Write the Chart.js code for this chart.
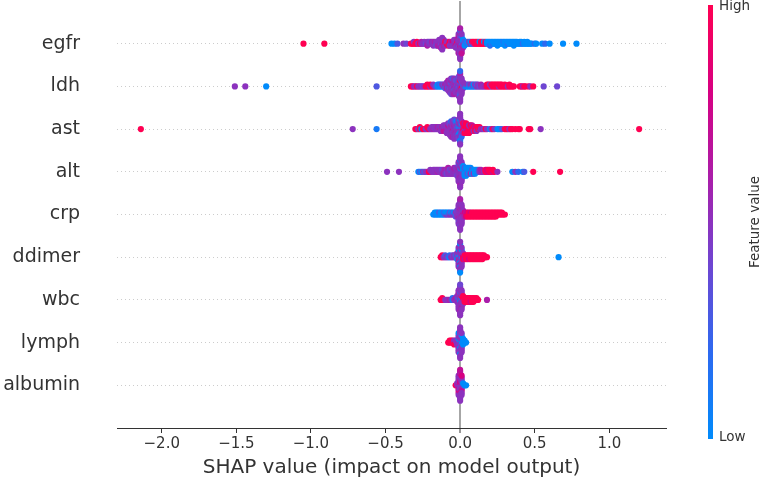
<!DOCTYPE html>
<html>
<head>
<meta charset="UTF-8">
<title>shap summary</title>
<style>
	body {margin: 0; background: #fff}
</style>
</head>
<body>
	<canvas id="shapChart" width="761" height="480"></canvas>
<script src="https://cdn.jsdelivr.net/npm/chart.js@4.4.0/dist/chart.umd.min.js"></script>
<script>
	// features, top row first
	const features = ['egfr', 'ldh', 'ast', 'alt', 'crp', 'ddimer', 'wbc', 'lymph', 'albumin'];
	const xTicks = [-2.0, -1.5, -1.0, -0.5, 0.0, 0.5, 1.0];

	// [shap value, feature value 0(low)..1(high)]
	const egfr = [
		[-1.05,1],[-0.91,1],[-0.46,0],[-0.44,0],[-0.42,0.3],[-0.38,0.5],[-0.36,0.4],
		[-0.33,1],[-0.32,1],[-0.31,1],[-0.31,0.5],[-0.30,1],[-0.29,1],[-0.29,1],[-0.28,0.5],[-0.27,1],[-0.26,0.5],[-0.26,0.6],[-0.25,0.5],
		[-0.24,0.5],[-0.24,0.5],[-0.23,0.4],[-0.22,0.5],[-0.22,0.5],[-0.22,0.6],[-0.21,0.5],[-0.21,0.5],[-0.20,0.5],[-0.20,0.4],[-0.19,0.5],[-0.19,0.6],
		[-0.18,0.5],[-0.18,0.5],[-0.18,0.5],[-0.17,0.5],[-0.17,0.6],[-0.16,0.5],[-0.16,0.5],[-0.16,0.4],[-0.15,0.5],[-0.15,0.5],[-0.15,0.6],
		[-0.14,0.5],[-0.14,0.5],[-0.14,0.6],[-0.14,0.5],[-0.13,0.5],[-0.13,0.5],[-0.13,0.4],[-0.13,0.5],[-0.13,0.6],
		[-0.12,0.5],[-0.12,0.5],[-0.12,0.6],[-0.12,0.5],[-0.12,0.4],[-0.12,0.5],[-0.12,0.5],
		[-0.11,0.5],[-0.11,0.5],[-0.11,0.6],[-0.11,0.5],[-0.10,1],[-0.10,1],[-0.10,0.5],[-0.09,1],[-0.09,0.5],[-0.08,0.5],[-0.08,0.5],[-0.08,1],
		[-0.07,1],[-0.07,1],[-0.07,0.5],[-0.06,0.5],[-0.06,0.6],[-0.06,0.5],[-0.05,0.5],[-0.05,0.8],[-0.05,0.5],
		[-0.04,0.5],[-0.04,0.6],[-0.04,0.5],[-0.04,0.5],[-0.03,0.5],[-0.03,0.5],[-0.03,0.7],[-0.03,0.5],[-0.03,0.5],
		[-0.02,0.5],[-0.02,1],[-0.02,0.5],[-0.02,0.6],[-0.02,0.5],
		[-0.01,0.5],[-0.01,0.5],[-0.01,0.6],[-0.01,0.5],[-0.01,0.4],[-0.01,0.5],[-0.01,0.5],[-0.01,0.7],[-0.01,0.5],[-0.01,0.5],[-0.01,0.6],
		[0,0.5],[0,0.5],[0,0.6],[0,0.5],[0,0.7],[0,0.5],[0,0.5],[0,0.4],[0,0.5],[0,0.6],[0,0.5],[0,0.5],[0,0.5],[0,0.3],[0,0.5],[0,0.6],[0,0.5],
		[0.01,0.5],[0.01,0.5],[0.01,0.3],[0.01,0.5],[0.01,0.6],[0.01,0.5],[0.01,0.5],[0.01,0.2],[0.01,0.5],[0.01,0.5],[0.01,0.7],
		[0.02,0.5],[0.02,0.2],[0.02,0.5],[0.02,0],[0.02,0.6],[0.03,0.5],[0.03,0.3],[0.03,0],
		[0.04,0],[0.04,0.2],[0.05,0.2],[0.05,0],[0.06,0],[0.06,0.5],[0.07,0.5],[0.07,0],[0.08,0],[0.08,1],[0.09,0.5],[0.09,1],
		[0.10,1],[0.10,1],[0.11,1],[0.11,1],[0.12,1],[0.12,1],[0.13,1],[0.13,0],[0.14,1],[0.14,1],[0.15,1],[0.15,1],[0.16,1],[0.16,0],[0.17,1],[0.17,1],
		[0.18,0],[0.18,0],[0.19,0],[0.19,0],[0.20,0],[0.20,0],[0.20,0.2],[0.21,0],[0.21,0],[0.22,0.2],[0.22,0],[0.23,0],[0.23,0],[0.24,0],[0.24,0],[0.25,0],[0.25,0],[0.25,0],
		[0.26,0],[0.26,0],[0.27,0],[0.27,0],[0.28,0],[0.28,0],[0.29,0],[0.29,0.1],[0.30,0],[0.30,0],[0.30,0],[0.31,0],[0.31,0],[0.32,0.2],[0.32,0],[0.33,0],[0.33,0],
		[0.34,0],[0.34,0],[0.35,0],[0.35,0],[0.36,0],[0.36,0],[0.36,0],[0.37,0],[0.37,0],[0.38,0],[0.38,0],[0.39,0],[0.40,0],[0.40,0],[0.41,0],[0.41,0],[0.42,0.2],
		[0.43,0],[0.43,0],[0.44,0],[0.45,0],[0.45,0],[0.46,0],[0.47,0],[0.48,0],[0.50,0.2],[0.51,0],[0.55,0],[0.57,0.2],[0.60,0],[0.69,0],[0.78,0]
	];
	const ldh = [
		[-1.51,0.5],[-1.44,0.5],[-1.30,0],[-0.56,0.3],
		[-0.33,1],[-0.32,1],[-0.31,0.6],[-0.30,0.5],[-0.29,1],[-0.28,0.5],[-0.27,0.5],[-0.26,0.5],[-0.25,0.4],[-0.24,0.5],
		[-0.23,1],[-0.22,1],[-0.22,1],[-0.21,1],[-0.20,0.5],[-0.20,1],[-0.19,1],[-0.18,1],[-0.18,0.5],[-0.17,0.5],
		[-0.16,0.3],[-0.15,0],[-0.15,0],[-0.14,0],[-0.14,0.2],[-0.13,0],[-0.13,0.1],[-0.12,0],[-0.12,0.5],[-0.11,0.5],[-0.11,0.4],
		[-0.10,0.5],[-0.10,0.6],[-0.10,0.3],[-0.09,0.5],[-0.09,0.5],[-0.09,0.6],[-0.09,0.5],
		[-0.08,0.5],[-0.08,0.5],[-0.08,0.3],[-0.08,0.5],[-0.08,0.5],[-0.08,0.6],
		[-0.07,0.5],[-0.07,0.6],[-0.07,0.5],[-0.07,0.5],[-0.07,0.4],[-0.07,0.5],[-0.07,0.5],
		[-0.06,0.5],[-0.06,0.5],[-0.06,0.5],[-0.06,0.3],[-0.06,0.5],[-0.06,0.6],[-0.06,0.5],[-0.06,0.5],[-0.06,0.4],
		[-0.05,0.5],[-0.05,0.5],[-0.05,0.4],[-0.05,0.5],[-0.05,0.5],[-0.05,0.6],[-0.05,0.5],[-0.05,0.3],[-0.05,0.5],
		[-0.04,0.5],[-0.04,0.5],[-0.04,0.6],[-0.04,0.5],[-0.04,0.3],[-0.04,0.5],[-0.04,0.5],[-0.04,0.5],[-0.04,0.6],
		[-0.03,0.5],[-0.03,0.5],[-0.03,0.5],[-0.03,0.6],[-0.03,0.5],[-0.03,0.4],[-0.03,0.5],
		[-0.02,0.5],[-0.02,0.4],[-0.02,0.5],[-0.02,0.5],[-0.02,0.5],[-0.02,0.3],
		[-0.01,0.5],[-0.01,0.5],[-0.01,0.3],[-0.01,0.5],[-0.01,0.5],[-0.01,0.5],[-0.01,0.6],[-0.01,0.5],[-0.01,0.5],[-0.01,0.4],[-0.01,0.5],
		[0,0.5],[0,0.5],[0,0.5],[0,0.3],[0,0.5],[0,1],[0,0.5],[0,0.5],[0,0.4],[0,0.5],[0,0.2],[0,0.5],[0,0.5],[0,0.6],[0,0.5],[0,0.2],[0,0.5],
		[0.01,0.5],[0.01,0.5],[0.01,1],[0.01,0.5],[0.01,0.5],[0.01,0.3],[0.01,0.5],[0.01,0.5],[0.01,0.5],
		[0.02,0.5],[0.02,0.3],[0.02,0.5],[0.02,0.5],
		[0.03,0.3],[0.03,0.5],[0.04,0],[0.04,0.5],[0.05,0],[0.05,0.5],[0.06,0],[0.06,0.3],[0.07,0.1],[0.07,0.5],[0.08,0],[0.08,0.5],[0.09,0.3],[0.09,0],
		[0.10,0],[0.10,0.5],[0.11,0.5],[0.11,0.3],[0.12,0.5],[0.12,0.5],[0.13,0.4],[0.14,0.5],[0.14,0.6],[0.15,0.5],[0.16,0.5],[0.17,0.6],
		[0.18,1],[0.18,1],[0.19,1],[0.19,1],[0.20,1],[0.20,0.5],[0.21,0.5],[0.21,1],[0.22,1],[0.22,1],[0.23,1],[0.23,1],[0.24,1],[0.24,1],[0.25,1],[0.25,1],
		[0.26,0.5],[0.26,1],[0.27,1],[0.27,1],[0.28,1],[0.28,1],[0.29,1],[0.30,1],[0.30,1],[0.31,1],[0.32,0.5],[0.33,1],[0.33,1],[0.34,1],[0.35,1],[0.36,1],
		[0.40,1],[0.41,1],[0.42,0.6],[0.43,1],[0.44,1],[0.46,1],[0.47,0.5],[0.49,1],[0.56,0.4],[0.65,0.4]
	];
	const ast = [
		[-2.14,1],[-0.72,0.5],[-0.56,0.1],
		[-0.30,1],[-0.29,1],[-0.28,0.4],[-0.27,1],[-0.27,1],[-0.26,0],[-0.25,1],[-0.24,1],[-0.23,0.5],[-0.22,0.5],[-0.22,1],[-0.21,1],[-0.20,0.5],
		[-0.19,0.5],[-0.19,0.5],[-0.18,0.6],[-0.18,0.5],[-0.17,0.5],[-0.17,0.5],[-0.16,0.5],[-0.16,0.5],[-0.15,0.5],[-0.15,0.6],[-0.14,0.5],[-0.14,0.5],
		[-0.13,1],[-0.13,0.5],[-0.13,0.5],[-0.12,0.5],[-0.12,0.6],[-0.12,0.5],[-0.11,0.5],[-0.11,0.5],[-0.11,0.7],[-0.11,0.5],
		[-0.10,0.5],[-0.10,0.5],[-0.10,0.7],[-0.10,0.5],[-0.09,0.5],[-0.09,0.5],[-0.09,0.6],[-0.09,0.5],[-0.09,0.5],
		[-0.08,0.5],[-0.08,0.5],[-0.08,0.5],[-0.08,0.7],[-0.08,0.5],[-0.08,0.5],
		[-0.07,0.5],[-0.07,0.6],[-0.07,0.5],[-0.07,0.5],[-0.07,0.5],[-0.07,0.4],[-0.07,0.5],
		[-0.06,0.5],[-0.06,0.5],[-0.06,0.5],[-0.06,0.6],[-0.06,0.5],[-0.06,0.5],[-0.06,0.5],[-0.06,0.2],[-0.06,0.5],
		[-0.05,0.5],[-0.05,0.5],[-0.05,0.7],[-0.05,0.5],[-0.05,0.5],[-0.05,0.5],[-0.05,0.5],[-0.05,0.5],[-0.05,0.6],
		[-0.04,0.5],[-0.04,0.5],[-0.04,0.5],[-0.04,0.6],[-0.04,0.5],[-0.04,0.5],[-0.04,0.5],[-0.04,0.5],[-0.04,0.5],[-0.04,0.4],[-0.04,0.5],
		[-0.03,0.5],[-0.03,0.5],[-0.03,0.5],[-0.03,0.5],[-0.03,0.6],[-0.03,0.5],[-0.03,0.5],[-0.03,0.2],[-0.03,0.5],
		[-0.02,0.5],[-0.02,0.3],[-0.02,0.5],[-0.02,0.5],[-0.02,0.5],[-0.02,0.5],[-0.02,0.5],[-0.02,0],[-0.02,0.5],
		[-0.01,0.5],[-0.01,0],[-0.01,0.5],[-0.01,0.2],[-0.01,0.5],[-0.01,0.5],[-0.01,0],[-0.01,0.5],[-0.01,0.5],[-0.01,0.5],[-0.01,0.4],
		[0,0.5],[0,0],[0,0.5],[0,0.5],[0,0],[0,0.5],[0,0.2],[0,0.5],[0,0.5],[0,0],[0,0.5],[0,0.5],[0,0],[0,0.5],[0,0.3],[0,0.5],[0,0.5],
		[0.01,0.5],[0.01,0],[0.01,0.5],[0.01,0.5],[0.01,0.5],[0.01,0],[0.01,0.5],[0.01,0.5],[0.01,0.2],
		[0.02,1],[0.02,0.5],[0.02,1],[0.02,0.5],[0.02,0.5],[0.02,1],
		[0.03,1],[0.03,1],[0.03,0.5],[0.03,1],[0.03,1],[0.03,0.7],
		[0.04,1],[0.04,1],[0.04,0.5],[0.04,1],[0.04,1],[0.04,1],
		[0.05,1],[0.05,1],[0.05,0.7],[0.05,1],[0.05,1],[0.06,1],[0.06,1],[0.06,1],[0.06,0.5],[0.06,1],
		[0.07,1],[0.07,0.5],[0.07,1],[0.07,1],[0.08,1],[0.08,1],[0.08,1],[0.08,0.7],[0.09,1],[0.09,1],[0.09,0.5],
		[0.10,1],[0.10,0.7],[0.10,1],[0.11,1],[0.11,1],[0.11,0.5],[0.12,1],[0.12,1],[0.13,0.5],[0.13,1],
		[0.14,0.5],[0.15,0.6],[0.16,0.4],[0.17,1],[0.18,0.5],
		[0.20,0],[0.21,0.5],[0.22,1],[0.23,0.5],[0.25,0],[0.26,0],[0.27,0],[0.28,0.3],[0.30,1],[0.31,1],[0.32,1],[0.33,0.5],[0.34,1],[0.35,1],
		[0.37,1],[0.39,1],[0.40,1],[0.46,1],[0.47,1],[0.54,0.5],[1.20,1]
	];
	const alt = [
		[-0.49,0.5],[-0.41,0.5],
		[-0.28,0],[-0.27,0.3],[-0.26,0],[-0.25,0.5],[-0.24,0.3],[-0.23,0.5],[-0.22,0.5],[-0.21,1],[-0.20,1],[-0.20,0.5],[-0.19,0.5],[-0.18,0.5],[-0.18,0.5],
		[-0.17,0.5],[-0.17,0.5],[-0.16,0.5],[-0.16,0.5],[-0.15,0.6],[-0.15,0.5],[-0.14,0.5],[-0.14,0.5],[-0.13,0.5],[-0.13,0.5],
		[-0.12,0.5],[-0.12,0.4],[-0.12,0.5],[-0.11,0.5],[-0.11,0.5],[-0.11,0.6],
		[-0.10,0.5],[-0.10,0.6],[-0.10,0.5],[-0.09,0.5],[-0.09,0.5],[-0.09,0.4],[-0.08,0.5],[-0.08,0.5],[-0.08,0.5],[-0.08,0.6],
		[-0.07,0.5],[-0.07,0.4],[-0.07,0.5],[-0.06,0],[-0.06,0.5],[-0.06,0.5],[-0.05,0],[-0.05,0.5],[-0.05,0.5],
		[-0.04,0.5],[-0.04,0.5],[-0.04,0.5],[-0.04,0.6],[-0.03,0.5],[-0.03,0.6],[-0.03,0.5],[-0.03,0.5],
		[-0.02,0.5],[-0.02,0.5],[-0.02,0.5],[-0.02,0.5],[-0.02,0.4],
		[-0.01,0.5],[-0.01,0.5],[-0.01,0.5],[-0.01,0.6],[-0.01,0.5],[-0.01,0.5],[-0.01,0.5],[-0.01,0.3],[-0.01,0.5],[-0.01,0.5],[-0.01,0.5],
		[0,0.5],[0,0.5],[0,0.5],[0,0.3],[0,0.5],[0,0.5],[0,0.6],[0,0.5],[0,0.5],[0,0.5],[0,0.5],[0,0.2],[0,0.5],[0,0.5],[0,0.6],[0,0.5],[0,0.5],
		[0.01,0.5],[0.01,0],[0.01,0.5],[0.01,0.5],[0.01,0.5],[0.01,0.5],[0.01,0.5],[0.01,0.3],[0.01,0.5],[0.01,0.5],[0.01,0.5],
		[0.02,0],[0.02,0],[0.02,0.5],[0.02,0],[0.02,0.5],[0.02,0],
		[0.03,0],[0.03,0],[0.03,0],[0.03,0.3],[0.03,0],
		[0.04,0],[0.04,0.2],[0.04,0],[0.04,0],[0.04,0],[0.05,0],[0.05,0],[0.05,0.3],[0.05,0],
		[0.06,0],[0.06,0.1],[0.06,0],[0.06,0],[0.07,0],[0.07,0],[0.07,0.5],[0.07,0],[0.08,0],[0.08,0.3],[0.08,0],
		[0.09,0],[0.09,0],[0.09,0.5],[0.10,0],[0.10,0],[0.10,0],[0.11,0],[0.11,0],[0.12,0.1],[0.12,0],
		[0.13,0.5],[0.13,0.5],[0.14,0.5],[0.14,0.6],[0.15,0.6],[0.16,0.5],
		[0.17,1],[0.17,1],[0.18,1],[0.18,0.8],[0.19,0.8],[0.19,1],[0.20,1],[0.20,1],[0.21,1],[0.22,0.7],[0.22,1],[0.23,1],[0.25,0.5],
		[0.35,0],[0.37,0.5],[0.39,0.2],[0.42,0],[0.43,0.3],[0.49,1],[0.67,1]
	];
	const crp = [
		[-0.18,0],[-0.17,0],[-0.17,0],[-0.16,0.1],[-0.16,0],[-0.15,0],[-0.15,0],[-0.14,0],[-0.14,0.3],[-0.13,0],[-0.13,0],
		[-0.12,0],[-0.12,0],[-0.11,0],[-0.11,0.2],[-0.10,0.3],[-0.10,0],
		[-0.09,0.5],[-0.09,0],[-0.08,0.4],[-0.08,0],[-0.07,0.5],[-0.07,0.3],[-0.06,0.5],[-0.06,0],[-0.05,0.5],[-0.05,0.3],
		[-0.04,0.5],[-0.04,0],[-0.03,0.5],[-0.03,0.5],[-0.03,0.3],
		[-0.02,0.5],[-0.02,0.5],[-0.02,0.5],[-0.02,0.4],
		[-0.01,0.5],[-0.01,0.5],[-0.01,0.5],[-0.01,0.5],[-0.01,0.6],[-0.01,0.5],[-0.01,0.5],[-0.01,0.5],[-0.01,0.4],[-0.01,0.5],[-0.01,0.5],
		[0,0.5],[0,0.5],[0,0.5],[0,0.5],[0,0.5],[0,0.6],[0,0.5],[0,0.5],[0,0.5],[0,0.5],[0,0.5],[0,0.5],[0,0.4],[0,0.5],[0,0.5],[0,0.6],[0,0.5],
		[0.01,0.5],[0.01,0.5],[0.01,0.6],[0.01,0.5],[0.01,0.5],[0.01,0.5],[0.01,0.5],[0.01,0.6],[0.01,0.5],[0.01,0.5],[0.01,0.5],
		[0.02,0.6],[0.02,0.7],[0.02,0.5],[0.02,0.5],
		[0.03,0.7],[0.03,0.8],[0.03,0.6],[0.04,1],[0.04,0.7],[0.04,0.8],
		[0.05,1],[0.05,0.8],[0.05,1],[0.06,1],[0.06,1],[0.06,1],[0.07,1],[0.07,0.8],[0.07,1],[0.08,1],[0.08,1],[0.08,1],[0.09,1],[0.09,1],[0.09,1],
		[0.10,1],[0.10,1],[0.10,1],[0.11,1],[0.11,1],[0.11,1],[0.12,1],[0.12,1],[0.12,1],[0.13,1],[0.13,1],[0.13,1],[0.14,1],[0.14,1],[0.14,1],
		[0.15,1],[0.15,1],[0.15,1],[0.16,1],[0.16,1],[0.16,1],[0.17,1],[0.17,1],[0.17,1],[0.18,1],[0.18,1],[0.18,1],[0.19,1],[0.19,1],[0.19,1],
		[0.20,1],[0.20,1],[0.20,1],[0.21,1],[0.21,1],[0.21,1],[0.22,1],[0.22,1],[0.22,1],[0.23,1],[0.23,1],[0.23,1],[0.24,1],[0.24,1],[0.24,1],
		[0.25,1],[0.25,1],[0.26,1],[0.26,1],[0.27,1],[0.27,1],[0.28,1],[0.28,1],[0.29,1],[0.30,1]
	];
	const ddimer = [
		[-0.13,1],[-0.12,1],[-0.12,1],[-0.11,0.5],[-0.10,0.5],[-0.10,0.3],[-0.09,0.5],[-0.08,0.3],[-0.07,0],[-0.07,0.2],
		[-0.06,0.5],[-0.05,0.5],[-0.05,0.4],[-0.04,0.5],[-0.04,0.5],[-0.03,0.5],[-0.03,0.3],
		[-0.02,0.5],[-0.02,0.5],[-0.02,0],[-0.02,0.5],
		[-0.01,0.5],[-0.01,0],[-0.01,0.5],[-0.01,0.5],[-0.01,0.6],[-0.01,0.5],[-0.01,0.5],[-0.01,0],[-0.01,0.5],[-0.01,0.5],[-0.01,0.5],
		[0,0.5],[0,0],[0,0.5],[0,0.5],[0,0.6],[0,0.5],[0,0],[0,0.5],[0,0.7],[0,0.5],[0,0],[0,0.5],[0,0.5],[0,0],[0,0.5],[0,0.5],[0,0],
		[0.01,0.5],[0.01,0.5],[0.01,0.1],[0.01,0.5],[0.01,0.5],[0.01,0.5],[0.01,0.5],[0.01,0],[0.01,0.5],[0.01,0.5],[0.01,0.5],
		[0.02,1],[0.02,0.8],[0.02,1],[0.02,0.5],
		[0.03,1],[0.03,1],[0.03,0.7],[0.04,1],[0.04,1],[0.04,1],[0.05,1],[0.05,1],[0.05,1],[0.06,1],[0.06,1],[0.06,0.8],
		[0.07,1],[0.07,1],[0.07,1],[0.08,1],[0.08,1],[0.08,1],[0.09,1],[0.09,1],[0.09,1],[0.10,1],[0.10,1],[0.10,1],[0.11,1],[0.11,1],[0.11,1],
		[0.12,1],[0.12,1],[0.12,1],[0.13,1],[0.13,1],[0.13,1],[0.14,1],[0.14,1],[0.14,1],[0.15,1],[0.15,1],[0.15,1],[0.16,1],[0.16,1],[0.17,1],[0.18,1],
		[0.66,0]
	];
	const wbc = [
		[-0.13,1],[-0.12,1],[-0.12,1],[-0.11,1],[-0.10,0.5],[-0.09,0.5],[-0.08,0.5],[-0.07,0.6],[-0.06,0.5],[-0.05,0],[-0.05,0.2],
		[-0.04,0.5],[-0.03,0.5],[-0.03,0.6],
		[-0.02,0.5],[-0.02,0.5],[-0.02,0.5],[-0.02,0.5],
		[-0.01,0.5],[-0.01,0],[-0.01,0.5],[-0.01,0.5],[-0.01,0.5],[-0.01,0.5],[-0.01,0.5],[-0.01,0.6],[-0.01,0.5],[-0.01,0.5],[-0.01,0.5],
		[0,0.5],[0,0.5],[0,0],[0,0.5],[0,0.5],[0,0.5],[0,0.5],[0,0.3],[0,0.5],[0,0.5],[0,0.5],[0,0.5],[0,0.6],[0,0.5],[0,0.5],[0,0.4],[0,0.5],
		[0.01,0.5],[0.01,0],[0.01,0.5],[0.01,1],[0.01,0.5],[0.01,0.5],[0.01,0.5],[0.01,0.5],[0.01,0.6],[0.01,0.5],[0.01,0.5],
		[0.02,1],[0.02,1],[0.02,0.5],[0.02,1],[0.02,0.5],
		[0.03,1],[0.03,1],[0.03,1],[0.04,1],[0.04,1],[0.04,1],[0.05,1],[0.05,1],[0.05,1],[0.06,1],[0.06,1],[0.06,1],
		[0.07,1],[0.07,1],[0.07,0.8],[0.08,1],[0.08,1],[0.08,1],[0.09,1],[0.09,1],[0.09,1],[0.10,1],[0.10,1],[0.11,1],[0.11,1],[0.12,1],
		[0.18,0.6]
	];
	const lymph = [
		[-0.08,1],[-0.07,1],[-0.07,1],[-0.06,1],[-0.06,1],[-0.05,1],[-0.05,1],[-0.04,1],[-0.04,0.5],[-0.04,1],[-0.03,1],[-0.03,0.5],
		[-0.02,0.5],[-0.02,0.5],[-0.02,0.5],
		[-0.01,0.5],[-0.01,0.5],[-0.01,0.5],[-0.01,0],[-0.01,0.5],[-0.01,0.5],[-0.01,0.5],[-0.01,0.5],[-0.01,0.5],[-0.01,0],[-0.01,0.5],
		[0,0.5],[0,0],[0,0.5],[0,0.5],[0,0.5],[0,0.5],[0,0],[0,0.5],[0,0.5],[0,0.5],[0,0.5],[0,0.5],[0,0],[0,0.5],[0,0.5],[0,0.5],[0,0.5],
		[0.01,0.5],[0.01,0],[0.01,0],[0.01,0.5],[0.01,0.5],[0.01,0.5],[0.01,0.5],[0.01,0],[0.01,0.5],[0.01,0.5],[0.01,0.5],
		[0.02,0],[0.02,0],[0.02,0],[0.02,0],[0.03,0],[0.03,0],[0.04,0]
	];
	const albumin = [
		[-0.03,1],[-0.02,0.7],[-0.02,0.5],
		[-0.01,0.5],[-0.01,0.7],[-0.01,0.5],[-0.01,0.5],[-0.01,0.7],[-0.01,0.5],[-0.01,0.6],[-0.01,0.5],[-0.01,0.8],[-0.01,0.5],[-0.01,0.5],
		[0,0.5],[0,0.7],[0,0.5],[0,0.8],[0,0.5],[0,0.7],[0,0.5],[0,0.5],[0,0.8],[0,0.5],[0,0.5],[0,0.7],[0,0.5],[0,0.6],[0,0.5],[0,0.7],[0,0.5],
		[0.01,0.5],[0.01,0.7],[0.01,0.5],[0.01,0.5],[0.01,0.6],[0.01,0.5],[0.01,0.7],[0.01,0.5],[0.01,0.5],[0.01,0.8],[0.01,0.5],
		[0.02,0.5],[0.02,0],[0.03,0],[0.04,0]
	];
	const rows = [egfr, ldh, ast, alt, crp, ddimer, wbc, lymph, albumin];

	// shap red_blue colormap (approx)
	const colorStops = [
		[0.0, 0, 139, 251],
		[0.2, 45, 105, 240],
		[0.4, 110, 70, 210],
		[0.5, 140, 50, 190],
		[0.6, 170, 30, 170],
		[0.8, 215, 0, 130],
		[1.0, 255, 0, 82]
	];
	function featureColor(v) {
		for (let i = 1; i < colorStops.length; i++) {
			const a = colorStops[i - 1], b = colorStops[i];
			if (v <= b[0]) {
				const t = (v - a[0]) / (b[0] - a[0]);
				const c = [1, 2, 3].map(k => Math.round(a[k] + (b[k] - a[k]) * t));
				return 'rgb(' + c.join(',') + ')';
			}
		}
		return 'rgb(255,0,82)';
	}

	// beeswarm stacking like shap: points with the same value pile up around the row
	function swarmOffsets(pts) {
		const layers = {};
		const ys = pts.map(p => {
			const key = Math.round(p[0] * 100);
			const layer = layers[key] || 0;
			layers[key] = layer + 1;
			return Math.ceil(layer / 2) * ((layer % 2) * 2 - 1);
		});
		const maxY = Math.max(...ys);
		const scale = 0.9 * 0.4 / maxY;
		return ys.map(y => y * scale);
	}

	const datasets = rows.map((pts, i) => {
		const row = features.length - 1 - i;
		const offs = swarmOffsets(pts);
		return {
			label: features[i],
			data: pts.map((p, j) => ({x: p[0], y: row + offs[j]})),
			pointBackgroundColor: pts.map(p => featureColor(p[1])),
			pointBorderWidth: 0,
			pointRadius: 3.1
		};
	});

	// colour bar at the right side
	const colorBar = {
		id: 'colorBar',
		afterDraw(chart) {
			const ctx = chart.ctx;
			const area = chart.chartArea;
			const x = area.right + 42, w = 5;
			const top = area.top + 4, bottom = area.bottom + 11;
			const g = ctx.createLinearGradient(0, bottom, 0, top);
			colorStops.forEach(s => g.addColorStop(s[0], 'rgb(' + s[1] + ',' + s[2] + ',' + s[3] + ')'));
			ctx.save();
			ctx.fillStyle = g;
			ctx.fillRect(x, top, w, bottom - top);
			ctx.fillStyle = '#333';
			ctx.font = '13.5px "DejaVu Sans"';
			ctx.textAlign = 'left';
			ctx.textBaseline = 'middle';
			ctx.fillText('High', x + w + 6, top + 1);
			ctx.fillText('Low', x + w + 6, bottom - 2);
			ctx.translate(x + 47, (top + bottom) / 2);
			ctx.rotate(-Math.PI / 2);
			ctx.textAlign = 'center';
			ctx.fillText('Feature value', 0, 0);
			ctx.restore();
		}
	};

	new Chart(document.getElementById('shapChart'), {
		type: 'scatter',
		data: {datasets: datasets},
		plugins: [colorBar],
		options: {
			responsive: false,
			animation: false,
			devicePixelRatio: 1,
			layout: {padding: {top: 1, right: 95, left: 0, bottom: 0}, autoPadding: false},
			plugins: {legend: {display: false}, tooltip: {enabled: false}},
			scales: {
				x: {
					type: 'linear', min: -2.3, max: 1.38,
					afterBuildTicks: s => { s.ticks = xTicks.map(v => ({value: v})); },
					afterFit: s => { s.height = 52; s.paddingLeft = 0; s.paddingRight = 0; },
					grid: {
						color: c => (c.tick && c.tick.value === 0) ? '#a6a6a6' : 'rgba(0,0,0,0)',
						lineWidth: c => (c.tick && c.tick.value === 0) ? 2 : 1,
						drawTicks: true, tickLength: 5, tickColor: '#333', tickWidth: 1
					},
					border: {display: true, color: '#333', width: 1},
					ticks: {
						color: '#333', padding: 2, maxRotation: 0,
						font: {family: 'DejaVu Sans', size: 15},
						callback: v => (v < 0 ? '\u2212' : '') + Math.abs(v).toFixed(1)
					},
					title: {
						display: true, text: 'SHAP value (impact on model output)', color: '#333',
						font: {family: 'DejaVu Sans', size: 20}, padding: {top: 0, bottom: 0}
					}
				},
				y: {
					type: 'linear', min: -1, max: 9,
					afterBuildTicks: s => { s.ticks = features.map((f, i) => ({value: features.length - 1 - i})); },
					afterFit: s => { s.width = 117; s.paddingTop = 0; s.paddingBottom = 0; },
					grid: {color: '#cccccc', lineWidth: 1, drawTicks: true, tickLength: 37, tickColor: 'rgba(0,0,0,0)'},
					border: {display: false, dash: [1, 3]},
					ticks: {
						color: '#333', padding: 0,
						font: {family: 'DejaVu Sans', size: 19},
						callback: v => features[features.length - 1 - v]
					}
				}
			}
		}
	});
</script>
</body>
</html>
